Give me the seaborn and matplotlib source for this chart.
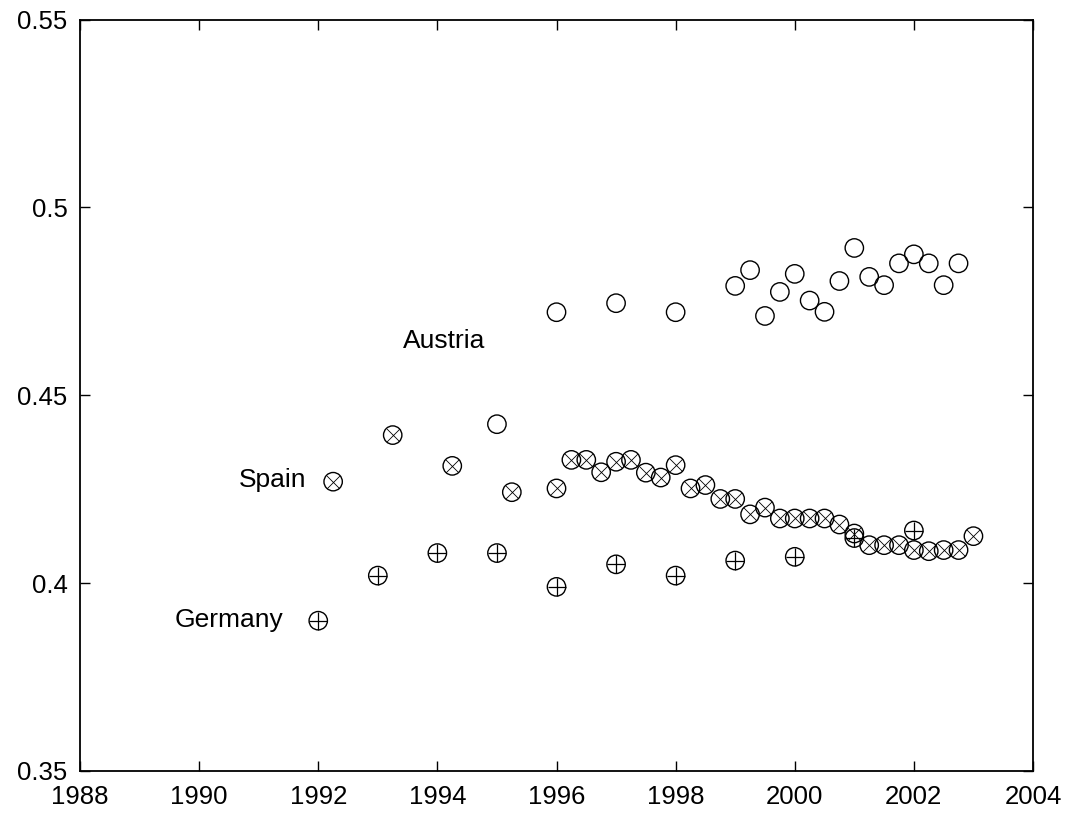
import numpy as np
import pandas as pd
import matplotlib
matplotlib.use("Agg")
import matplotlib.pyplot as plt
import seaborn as sns

# ---- data ----
germany_x = [1992, 1993, 1994, 1995, 1996, 1997, 1998, 1999, 2000, 2001, 2002]
germany_y = [0.390, 0.402, 0.408, 0.408, 0.399, 0.405, 0.402, 0.406, 0.407, 0.412, 0.414]

spain_x = [1992.25, 1993.25, 1994.25, 1995.25, 1996.0,
           1996.25, 1996.5, 1996.75, 1997.0, 1997.25, 1997.5, 1997.75, 1998.0,
           1998.25, 1998.5, 1998.75, 1999.0, 1999.25, 1999.5, 1999.75, 2000.0,
           2000.25, 2000.5, 2000.75, 2001.0, 2001.25, 2001.5, 2001.75, 2002.0,
           2002.25, 2002.5, 2002.75, 2003.0]
spain_y = [0.427, 0.4394, 0.4312, 0.4242, 0.4252,
           0.4328, 0.4328, 0.4295, 0.4323, 0.4328, 0.4294, 0.4281, 0.4314,
           0.4252, 0.4261, 0.4224, 0.4224, 0.4183, 0.4201, 0.4172, 0.4172,
           0.4172, 0.4172, 0.4156, 0.4132, 0.4101, 0.4101, 0.4101, 0.4088,
           0.4085, 0.4088, 0.4088, 0.4125]

austria_x = [1995, 1996, 1997, 1998,
             1999.0, 1999.25, 1999.5, 1999.75, 2000.0, 2000.25, 2000.5, 2000.75,
             2001.0, 2001.25, 2001.5, 2001.75, 2002.0, 2002.25, 2002.5, 2002.75]
austria_y = [0.4423, 0.4721, 0.4745, 0.4721,
             0.4791, 0.4833, 0.4711, 0.4775, 0.4823, 0.4752, 0.4722, 0.4804,
             0.4892, 0.4815, 0.4793, 0.4851, 0.4875, 0.4851, 0.4793, 0.4851]

labels = ["Austria", "Spain", "Germany"]
label_x = [1993.42, 1991.80, 1991.42]
label_y = [0.4644, 0.4274, 0.3901]
label_ha = ["left", "right", "right"]

x_ticks = list(range(1988, 2005, 2))
y_ticks = [0.35, 0.4, 0.45, 0.5, 0.55]

# ---- style ----
sns.set_theme(style="ticks")
plt.rcParams["font.family"] = ["Liberation Sans", "DejaVu Sans"]
plt.rcParams.update({
    "xtick.direction": "in", "ytick.direction": "in",
    "xtick.top": True, "ytick.right": True,
    "xtick.major.size": 7, "ytick.major.size": 7,
    "xtick.major.width": 1.0, "ytick.major.width": 1.0,
    "axes.linewidth": 1.3, "axes.edgecolor": "black",
    "xtick.color": "black", "ytick.color": "black",
})

fig = plt.figure(figsize=(10.71, 8.14), dpi=100)
ax = fig.add_axes([80 / 1071, 1 - 771 / 814, (1033 - 80) / 1071, (771 - 19.5) / 814])

S_CIRCLE = 175
S_X = 85
S_PLUS = 175


def circles(x, y):
    sns.scatterplot(x=x, y=y, marker="o", s=S_CIRCLE, ax=ax, color="black",
                    linewidth=1.0, zorder=3)
    pc = ax.collections[-1]
    pc.set_facecolor("none")
    pc.set_edgecolor("black")


# Austria: plain circles
circles(austria_x, austria_y)

# Spain: circle with x
circles(spain_x, spain_y)
sns.scatterplot(x=spain_x, y=spain_y, marker="x", s=S_X, ax=ax, color="black",
                linewidth=0.6, zorder=3)

# Germany: circle with +
circles(germany_x, germany_y)
sns.scatterplot(x=germany_x, y=germany_y, marker="+", s=S_PLUS, ax=ax, color="black",
                linewidth=0.9, zorder=3)

for t, tx, ty, ha in zip(labels, label_x, label_y, label_ha):
    ax.text(tx, ty, t, ha=ha, va="center", fontsize=19, color="black")

ax.set_xlim(1988, 2004)
ax.set_ylim(0.35, 0.55)
ax.set_xticks(x_ticks)
ax.set_xticklabels([str(v) for v in x_ticks])
ax.set_yticks(y_ticks)
ax.set_yticklabels(["0.35", "0.4", "0.45", "0.5", "0.55"])
ax.tick_params(axis="both", labelsize=18.5)
ax.tick_params(axis="x", pad=10)
ax.tick_params(axis="y", pad=9)
ax.set_xlabel("")
ax.set_ylabel("")
for sp in ax.spines.values():
    sp.set_visible(True)

fig.savefig("out.png", dpi=100, facecolor="white")
